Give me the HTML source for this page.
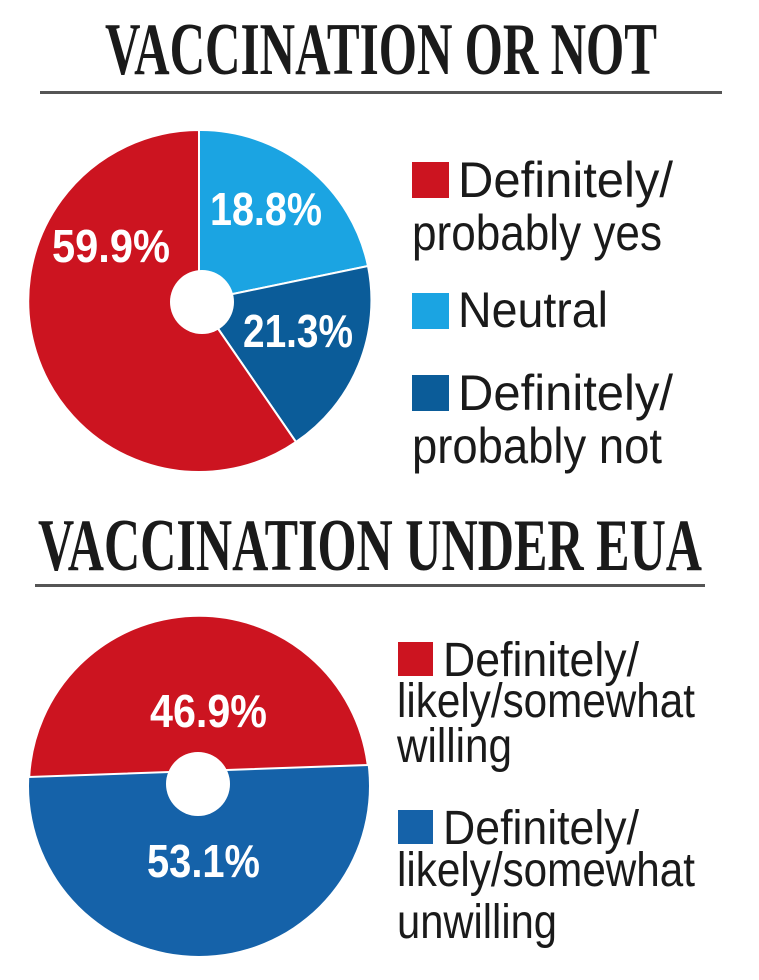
<!DOCTYPE html>
<html><head><meta charset="utf-8"><style>html,body{margin:0;padding:0;background:#fff}svg{display:block}</style></head>
<body>
<svg width="759" height="980" viewBox="0 0 759 980" xmlns="http://www.w3.org/2000/svg">
<g font-family="Liberation Serif, serif" font-weight="bold" fill="#1a1a1a">
<text x="105" y="74" font-size="74" textLength="552" lengthAdjust="spacingAndGlyphs">VACCINATION OR NOT</text>
<text x="38" y="570" font-size="74" textLength="664" lengthAdjust="spacingAndGlyphs">VACCINATION UNDER EUA</text>
</g>
<rect x="40" y="91" width="682" height="3" fill="#555"/>
<rect x="35" y="584" width="670" height="3" fill="#555"/>

<!-- pie 1 -->
<g stroke="#fff" stroke-width="2">
<path d="M199,301 L199,130 A171,171 0 0 1 368,266 Z" fill="#1ba4e2"/>
<path d="M199,301 L368,266 A171,171 0 0 1 296,442 Z" fill="#0b5c99"/>
<path d="M199,301 L296,442 A171,171 0 1 1 199,130 Z" fill="#cc1420"/>
</g>
<circle cx="202" cy="302" r="32" fill="#fff"/>
<g font-family="Liberation Sans, sans-serif" font-weight="bold" fill="#fff" font-size="46">
<text x="52" y="262" textLength="118" lengthAdjust="spacingAndGlyphs">59.9%</text>
<text x="210" y="225" textLength="112" lengthAdjust="spacingAndGlyphs">18.8%</text>
<text x="243" y="347" textLength="110" lengthAdjust="spacingAndGlyphs">21.3%</text>
</g>

<!-- pie 2 -->
<circle cx="199" cy="786" r="170" fill="#1562a9"/>
<path d="M29.2,777 A170,170 0 0 1 367.7,765 Z" fill="#cc1420" stroke="#fff" stroke-width="2"/>
<circle cx="198" cy="784" r="32" fill="#fff"/>
<g font-family="Liberation Sans, sans-serif" font-weight="bold" fill="#fff" font-size="46">
<text x="150" y="727" textLength="117" lengthAdjust="spacingAndGlyphs">46.9%</text>
<text x="147" y="877" textLength="113" lengthAdjust="spacingAndGlyphs">53.1%</text>
</g>

<!-- legend 1 -->
<rect x="412" y="162" width="37" height="36" fill="#cc1420"/>
<rect x="412" y="293" width="37" height="36" fill="#1ba4e2"/>
<rect x="412" y="375" width="37" height="36" fill="#0b5c99"/>
<g font-family="Liberation Sans, sans-serif" fill="#1a1a1a" font-size="50">
<text x="458" y="197" textLength="215" lengthAdjust="spacingAndGlyphs">Definitely/</text>
<text x="412" y="250" textLength="250" lengthAdjust="spacingAndGlyphs">probably yes</text>
<text x="458" y="327" textLength="150" lengthAdjust="spacingAndGlyphs">Neutral</text>
<text x="458" y="410" textLength="215" lengthAdjust="spacingAndGlyphs">Definitely/</text>
<text x="412" y="463" textLength="250" lengthAdjust="spacingAndGlyphs">probably not</text>
</g>

<!-- legend 2 -->
<rect x="398" y="642" width="35" height="34" fill="#cc1420"/>
<rect x="398" y="810" width="35" height="34" fill="#1562a9"/>
<g font-family="Liberation Sans, sans-serif" fill="#1a1a1a" font-size="48">
<text x="443" y="676" textLength="196" lengthAdjust="spacingAndGlyphs">Definitely/</text>
<text x="397" y="717" textLength="298" lengthAdjust="spacingAndGlyphs">likely/somewhat</text>
<text x="397" y="762" textLength="115" lengthAdjust="spacingAndGlyphs">willing</text>
<text x="443" y="844" textLength="196" lengthAdjust="spacingAndGlyphs">Definitely/</text>
<text x="397" y="886" textLength="298" lengthAdjust="spacingAndGlyphs">likely/somewhat</text>
<text x="397" y="938" textLength="160" lengthAdjust="spacingAndGlyphs">unwilling</text>
</g>
</svg>
</body></html>
